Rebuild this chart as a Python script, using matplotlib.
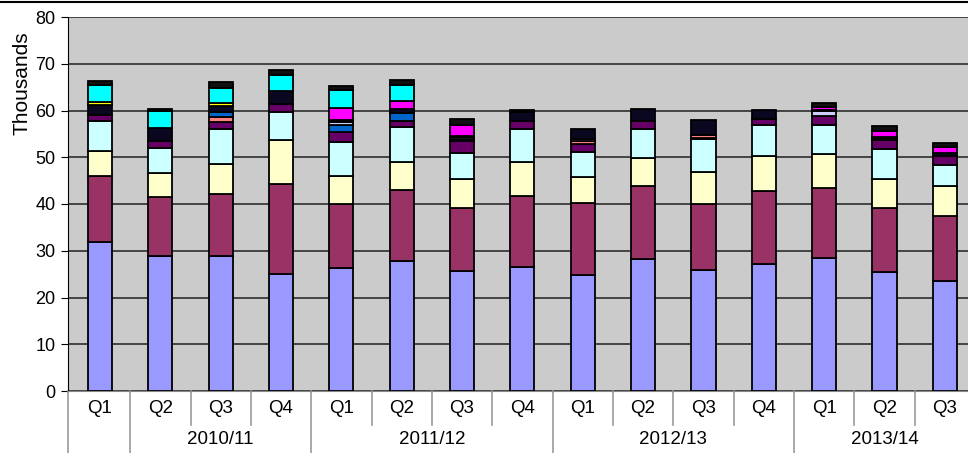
import matplotlib
matplotlib.use("Agg")
import matplotlib.pyplot as plt
from matplotlib.lines import Line2D

plt.rcParams['font.family'] = ['Liberation Sans', 'DejaVu Sans']

quarters = ["Q1", "Q2", "Q3", "Q4", "Q1", "Q2", "Q3", "Q4",
            "Q1", "Q2", "Q3", "Q4", "Q1", "Q2", "Q3"]
years = ["2010/11", "2011/12", "2012/13", "2013/14"]
year_spans = [(1, 3), (4, 7), (8, 11), (12, 14)]

s_lavender = [31.9, 28.9, 28.8, 25.1, 26.4, 27.8, 25.7, 26.5, 24.8, 28.2, 25.9, 27.2, 28.4, 25.5, 23.5]
s_maroon = [14.1, 12.6, 13.3, 19.2, 13.7, 15.2, 13.4, 15.2, 15.4, 15.7, 14.1, 15.6, 15.1, 13.7, 13.9]
s_ivory = [5.3, 5.1, 6.5, 9.4, 5.9, 6.0, 6.2, 7.3, 5.6, 6.0, 6.8, 7.5, 7.3, 6.1, 6.5]
s_lightcyan = [6.5, 5.4, 7.4, 6.0, 7.3, 7.5, 5.7, 7.0, 5.3, 6.2, 7.0, 6.5, 6.2, 6.4, 4.4]
s_purple = [1.2, 1.5, 1.6, 1.6, 2.1, 1.3, 2.5, 1.8, 1.7, 1.7, 0.4, 1.3, 1.8, 1.9, 2.0]
s_coral = [0, 0, 1.0, 0, 0, 0, 0, 0, 0.7, 0, 0.5, 0, 0, 0, 0]
s_blue = [0, 0, 1.1, 0, 1.6, 1.6, 0.5, 0, 0, 0, 0, 0, 0, 0, 0]
s_pale = [0, 0, 0, 0, 0.5, 0, 0.3, 0, 0.5, 0, 0, 0, 1.1, 0.3, 0]
s_navy = [2.1, 2.8, 1.3, 2.9, 0.4, 0.9, 0.3, 1.8, 2.0, 2.6, 3.3, 2.0, 0.3, 0.4, 0.7]
s_magenta = [0, 0, 0, 0, 2.7, 1.7, 2.2, 0, 0, 0, 0, 0, 0.6, 1.4, 1.1]
s_yellow = [0.8, 0, 0.5, 0, 0, 0, 0, 0, 0, 0, 0, 0, 0, 0, 0]
s_cyan = [3.5, 3.6, 3.4, 3.4, 3.7, 3.4, 0, 0, 0, 0, 0, 0, 0, 0, 0]
s_top = [0.9, 0.5, 1.2, 1.1, 0.9, 1.1, 1.3, 0.5, 0, 0, 0, 0, 0.9, 1.0, 1.0]

series = [s_lavender, s_maroon, s_ivory, s_lightcyan, s_purple, s_coral, s_blue,
          s_pale, s_navy, s_magenta, s_yellow, s_cyan, s_top]
colors = ["#9999FF", "#993366", "#FFFFCC", "#CCFFFF", "#660066", "#FF8080", "#0066CC",
          "#CCCCFF", "#0a0820", "#FF00FF", "#FFFF00", "#00FFFF", "#101010"]

fig = plt.figure(figsize=(9.68, 4.53), dpi=100)
fig.patch.set_facecolor("white")
ax = fig.add_axes([68 / 968, 1 - 391 / 453, 1 - 68 / 968 + 0.001, (391 - 17) / 453])
ax.set_facecolor("#cbcbcb")

x = list(range(len(quarters)))
bottoms = [0.0] * len(x)
for vals, col in zip(series, colors):
    xs = [i for i in x if vals[i] > 0]
    hs = [vals[i] for i in xs]
    bs = [bottoms[i] for i in xs]
    ax.bar(xs, hs, bottom=bs, width=0.4, color=col, edgecolor="black",
           linewidth=1.3, zorder=3)
    for i in x:
        bottoms[i] += vals[i]

ax.set_ylim(0, 80)
ax.set_xlim(-0.53, 14.4)
ax.set_yticks(range(0, 81, 10))
ax.yaxis.grid(True, color="#202020", linewidth=1.1, zorder=1)
ax.set_axisbelow(True)
ax.tick_params(axis="y", labelsize=13, length=5, color="black", pad=4)
ax.set_xticks([])
for sp in ["top", "right"]:
    ax.spines[sp].set_visible(False)
ax.spines["left"].set_color("black")
ax.spines["bottom"].set_color("#888888")

trans = ax.get_xaxis_transform()
for i, q in enumerate(quarters):
    ax.text(i, -0.046, q, transform=trans, ha="center", va="center", fontsize=13.5)

short_end = -34 / 374
long_end = -62 / 374
long_bounds = [-0.53] + [s - 0.5 for s, e in year_spans]
for b in range(len(quarters) - 1):
    pos = b + 0.5
    if pos in long_bounds:
        continue
    ax.plot([pos, pos], [0, short_end], transform=trans, color="#999999",
            linewidth=1.2, clip_on=False)
for pos in long_bounds:
    ax.plot([pos, pos], [0, long_end], transform=trans, color="#999999",
            linewidth=1.2, clip_on=False)

for yr, (s, e) in zip(years, year_spans):
    ax.text((s + e) / 2, -0.131, yr, transform=trans, ha="center", va="center", fontsize=13.5)

fig.text(22 / 968, 1 - 83 / 453, "Thousands", rotation=90, ha="center", va="center",
         fontsize=15)

fig.add_artist(Line2D([0, 1], [1 - 2 / 453, 1 - 2 / 453], color="black", linewidth=1.5))

fig.savefig("out.png", dpi=100)
